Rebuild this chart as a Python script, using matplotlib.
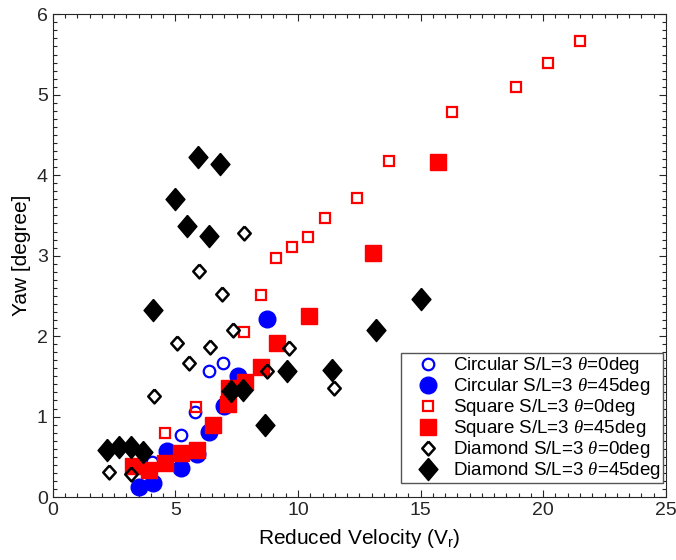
import matplotlib
matplotlib.use("Agg")
import matplotlib.pyplot as plt
from matplotlib.ticker import MultipleLocator

plt.rcParams['font.family'] = ['Liberation Sans', 'DejaVu Sans']
plt.rcParams['mathtext.fontset'] = 'custom'
plt.rcParams['mathtext.it'] = 'Liberation Serif:italic'

# Circular S/L=3
circ0_x = [4.04, 5.23, 5.80, 6.37, 6.95]
circ0_y = [0.44, 0.77, 1.06, 1.57, 1.66]
circ45_x = [3.50, 4.10, 4.64, 5.25, 5.88, 6.37, 6.98, 7.56, 8.74]
circ45_y = [0.13, 0.17, 0.57, 0.36, 0.54, 0.81, 1.13, 1.51, 2.21]

# Square S/L=3
sq0_x = [4.57, 5.84, 7.80, 8.50, 9.10, 9.76, 10.4, 11.1, 12.4, 13.7, 16.3, 18.9, 20.2, 21.5]
sq0_y = [0.80, 1.12, 2.05, 2.51, 2.97, 3.11, 3.23, 3.47, 3.72, 4.18, 4.79, 5.09, 5.40, 5.67]
sq45_x = [3.27, 3.92, 4.58, 5.23, 5.88, 6.54, 7.15, 7.20, 7.84, 8.50, 9.15, 10.46, 13.07, 15.70]
sq45_y = [0.39, 0.34, 0.42, 0.55, 0.59, 0.89, 1.15, 1.35, 1.43, 1.62, 1.91, 2.25, 3.03, 4.16]

# Diamond S/L=3
dia0_x = [2.29, 3.19, 4.13, 5.06, 5.56, 5.96, 6.41, 6.90, 7.35, 7.80, 8.74, 9.64, 11.48]
dia0_y = [0.31, 0.29, 1.25, 1.92, 1.67, 2.81, 1.86, 2.52, 2.07, 3.28, 1.57, 1.85, 1.35]
dia45_x = [2.21, 2.70, 3.19, 3.68, 4.08, 4.98, 5.47, 5.92, 6.37, 6.82, 7.27, 7.76,
           8.66, 9.56, 11.40, 13.19, 15.03]
dia45_y = [0.58, 0.62, 0.62, 0.56, 2.33, 3.70, 3.37, 4.23, 3.24, 4.14, 1.32, 1.33,
           0.90, 1.57, 1.58, 2.07, 2.46]

labels = [r'Circular S/L=3 $\mathit{\theta}$=0deg', r'Circular S/L=3 $\mathit{\theta}$=45deg',
          r'Square S/L=3 $\mathit{\theta}$=0deg', r'Square S/L=3 $\mathit{\theta}$=45deg',
          r'Diamond S/L=3 $\mathit{\theta}$=0deg', r'Diamond S/L=3 $\mathit{\theta}$=45deg']

diamond_open = [(0, 1), (0.9, 0), (0, -1), (-0.9, 0), (0, 1)]
diamond_full = [(0, 1), (0.85, 0), (0, -1), (-0.85, 0), (0, 1)]

fig = plt.figure(figsize=(6.76, 5.60), dpi=100)
ax = fig.add_axes([0.078, 0.1125, 0.907, 0.862])

ax.plot(circ0_x, circ0_y, 'o', ms=8.3, mfc='none', mec='blue', mew=1.6, label=labels[0])
ax.plot(circ45_x, circ45_y, 'o', ms=12, mfc='blue', mec='blue', label=labels[1])
ax.plot(sq0_x, sq0_y, 's', ms=6.5, mfc='none', mec='red', mew=1.6, label=labels[2])
ax.plot(sq45_x, sq45_y, 's', ms=11, mfc='red', mec='red', label=labels[3])
ax.plot(dia0_x, dia0_y, ls='none', marker=diamond_open, ms=10, mfc='none', mec='black',
        mew=1.8, label=labels[4])
ax.plot(dia45_x, dia45_y, ls='none', marker=diamond_full, ms=16, mfc='black', mec='black',
        label=labels[5])

ax.set_xlim(0, 25)
ax.set_ylim(0, 6)
ax.xaxis.set_major_locator(MultipleLocator(5))
ax.xaxis.set_minor_locator(MultipleLocator(0.5))
ax.yaxis.set_major_locator(MultipleLocator(1))
ax.yaxis.set_minor_locator(MultipleLocator(0.1))
ax.tick_params(which='both', direction='in', top=True, right=True, colors='#262626',
               labelsize=14, width=0.8)
ax.tick_params(which='major', length=5)
ax.tick_params(which='minor', length=3)
for s in ax.spines.values():
    s.set_color('#262626')
    s.set_linewidth(0.8)

ax.set_xlabel('Reduced Velocity (V$_\\mathregular{r}$)', fontsize=15, labelpad=6)
ax.set_ylabel('Yaw [degree]', fontsize=15, labelpad=4)

leg = ax.legend(loc='lower right', bbox_to_anchor=(0.995, 0.029), borderaxespad=0,
                fancybox=False, fontsize=13.5, handletextpad=0.05, labelspacing=0.0,
                borderpad=0.1, handlelength=2.6, framealpha=1)
leg.get_frame().set_edgecolor('#555555')
leg.get_frame().set_linewidth(1.0)

fig.savefig('out.png', dpi=100)
